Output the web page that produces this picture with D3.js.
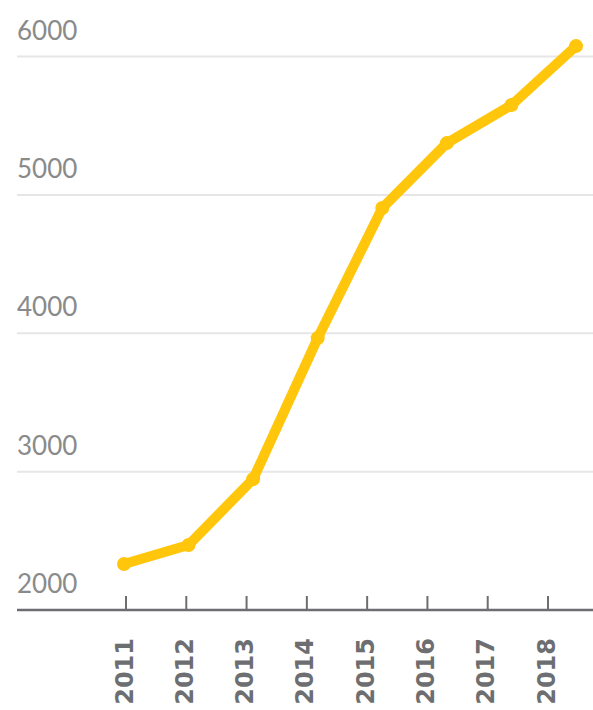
<!DOCTYPE html>
<html>
<head>
<meta charset="utf-8">
<script src="https://cdn.jsdelivr.net/npm/d3@7"></script>
<style>
  html, body { margin: 0; padding: 0; background: #fff; }
  svg { display: block; }
</style>
</head>
<body>
<svg id="chart"></svg>
<script>
const years = ["2011", "2012", "2013", "2014", "2015", "2016", "2017", "2018"];
const values = [2332, 2470, 2946, 3965, 4905, 5374, 5649, 6075];
const yTicks = [2000, 3000, 4000, 5000, 6000];

const width = 593;
const height = 710;

const svg = d3.select("#chart")
    .attr("width", width)
    .attr("height", height);

const left = 17;
const baseline = 610;

const y = d3.scaleLinear()
    .domain([2000, 6000])
    .range([baseline, 56.5]);

// ticks and points don't sit on the same spacing in the original
const xTick = d3.scalePoint().domain(years).range([126, 548]);
const xLine = d3.scalePoint().domain(years).range([124, 576]);

// gridlines + y labels
const grid = svg.append("g");
grid.selectAll("line")
    .data(yTicks.filter(d => d !== 2000))
    .join("line")
    .attr("x1", left)
    .attr("x2", width)
    .attr("y1", d => y(d))
    .attr("y2", d => y(d))
    .attr("stroke", "#e6e6e6")
    .attr("stroke-width", 2);

grid.selectAll("text")
    .data(yTicks)
    .join("text")
    .attr("x", left)
    .attr("y", d => y(d) - 17)
    .attr("font-family", "Lato, 'Open Sans', sans-serif")
    .attr("font-weight", 400)
    .attr("font-size", 26)
    .attr("fill", "#8a8a8a")
    .text(d => d);

// x axis
const xAxis = svg.append("g");
xAxis.append("line")
    .attr("x1", left)
    .attr("x2", width)
    .attr("y1", baseline)
    .attr("y2", baseline)
    .attr("stroke", "#6d6e71")
    .attr("stroke-width", 2.5);

xAxis.selectAll(".tick")
    .data(years)
    .join("line")
    .attr("class", "tick")
    .attr("x1", d => xTick(d))
    .attr("x2", d => xTick(d))
    .attr("y1", baseline)
    .attr("y2", baseline - 14)
    .attr("stroke", "#6d6e71")
    .attr("stroke-width", 2);

xAxis.selectAll("text")
    .data(years)
    .join("text")
    .attr("transform", d => `translate(${xTick(d) - 2},${baseline + 28}) rotate(-90)`)
    .attr("text-anchor", "end")
    .attr("dy", "0.36em")
    .attr("font-family", "'DejaVu Sans', sans-serif")
    .attr("font-weight", "bold")
    .attr("font-size", 24)
    .attr("fill", "#6d6e71")
    .text(d => d);

// line
const data = years.map((yr, i) => ({ year: yr, value: values[i] }));

const line = d3.line()
    .x(d => xLine(d.year))
    .y(d => y(d.value));

svg.append("path")
    .datum(data)
    .attr("d", line)
    .attr("fill", "none")
    .attr("stroke", "#ffc60b")
    .attr("stroke-width", 10)
    .attr("stroke-linejoin", "round")
    .attr("stroke-linecap", "round");

svg.append("g")
    .selectAll("circle")
    .data(data)
    .join("circle")
    .attr("cx", d => xLine(d.year))
    .attr("cy", d => y(d.value))
    .attr("r", 7)
    .attr("fill", "#ffc60b");
</script>
</body>
</html>
